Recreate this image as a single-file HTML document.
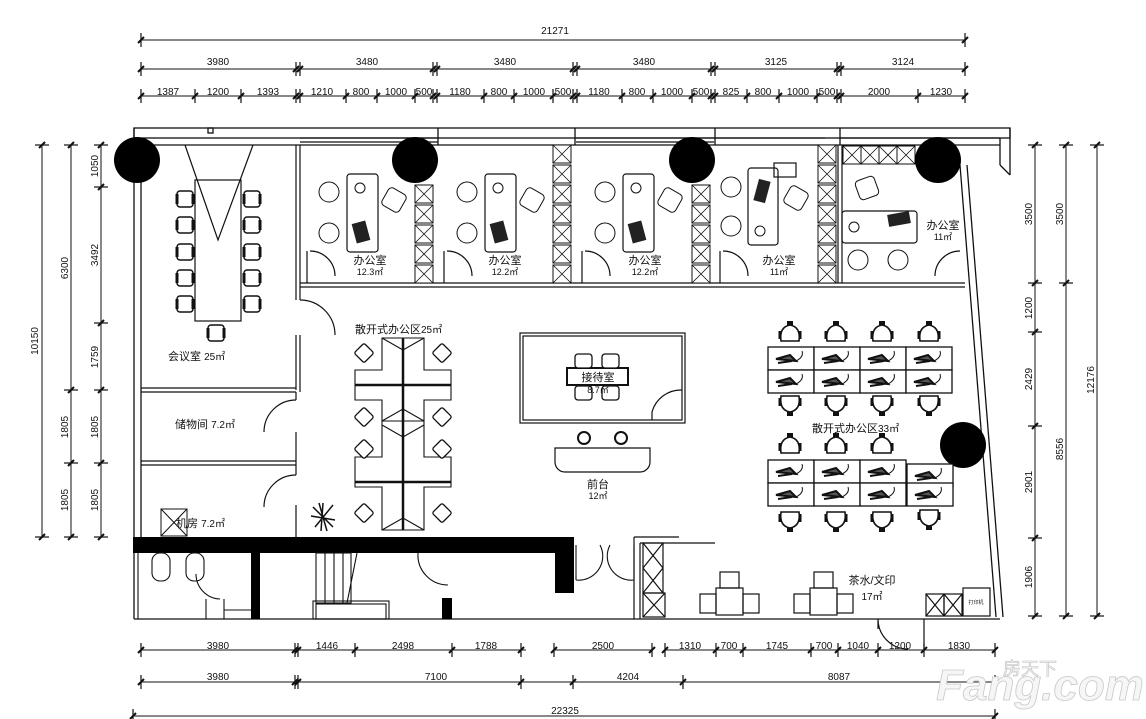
<!DOCTYPE html>
<html><head><meta charset="utf-8"><style>
html,body{margin:0;padding:0;background:#fff;}
svg{display:block;}
text{font-family:"Liberation Sans","Noto Sans CJK SC",sans-serif;fill:#111;}
</style></head><body>
<svg width="1146" height="719" viewBox="0 0 1146 719" xmlns="http://www.w3.org/2000/svg">
<defs>
<g id="tk"><line x1="0" y1="-7" x2="0" y2="7" stroke="#111" stroke-width="1.2"/><line x1="-3" y1="3" x2="3" y2="-3" stroke="#111" stroke-width="2"/></g>
<g id="tkv"><line x1="-7" y1="0" x2="7" y2="0" stroke="#111" stroke-width="1.2"/><line x1="-3" y1="3" x2="3" y2="-3" stroke="#111" stroke-width="2"/></g>
<g id="xc"><rect x="0" y="0" width="18" height="18" fill="#fff" stroke="#111"/><path d="M0 0L18 18M18 0L0 18" stroke="#111" stroke-width="0.8"/></g>
<g id="ch"><rect x="-8" y="-8" width="16" height="16" rx="3" fill="#fff" stroke="#111" stroke-width="1.5"/><path d="M-8 -5v10M8 -5v10" stroke="#111" stroke-width="3"/></g>
<g id="oc"><path d="M-9 8 Q-11 -6 0 -8 Q11 -6 9 8 Z" fill="#fff" stroke="#111" stroke-width="1.6"/><path d="M-10 -2v8M10 -2v8" stroke="#111" stroke-width="3"/><rect x="-3" y="-12" width="6" height="4" fill="#111"/></g>
<g id="ws"><rect x="0" y="0" width="46" height="23" fill="#fff" stroke="#111" stroke-width="1.3"/><path d="M8 12 L22 8 L28 14 Z M10 16 l14 -2" stroke="#111" stroke-width="2" fill="#555"/><path d="M28 14 q8 -4 6 -10" stroke="#111" fill="none"/></g>
</defs>

<g stroke="#111" stroke-width="1">
<line x1="141" y1="40" x2="965" y2="40"/>
<line x1="141" y1="69" x2="965" y2="69"/>
<line x1="141" y1="96" x2="965" y2="96"/>
</g>
<g>
<use href="#tk" x="141" y="40"/><use href="#tk" x="965" y="40"/>
<use href="#tk" x="141" y="69"/><use href="#tk" x="296" y="69"/><use href="#tk" x="300" y="69"/><use href="#tk" x="433" y="69"/><use href="#tk" x="437" y="69"/><use href="#tk" x="573" y="69"/><use href="#tk" x="577" y="69"/><use href="#tk" x="711" y="69"/><use href="#tk" x="715" y="69"/><use href="#tk" x="837" y="69"/><use href="#tk" x="841" y="69"/><use href="#tk" x="965" y="69"/>
<use href="#tk" x="141" y="96"/><use href="#tk" x="195" y="96"/><use href="#tk" x="241" y="96"/><use href="#tk" x="296" y="96"/><use href="#tk" x="300" y="96"/><use href="#tk" x="346" y="96"/><use href="#tk" x="377" y="96"/><use href="#tk" x="415" y="96"/><use href="#tk" x="433" y="96"/><use href="#tk" x="437" y="96"/><use href="#tk" x="484" y="96"/><use href="#tk" x="514" y="96"/><use href="#tk" x="553" y="96"/><use href="#tk" x="573" y="96"/><use href="#tk" x="577" y="96"/><use href="#tk" x="622" y="96"/><use href="#tk" x="653" y="96"/><use href="#tk" x="692" y="96"/><use href="#tk" x="711" y="96"/><use href="#tk" x="715" y="96"/><use href="#tk" x="747" y="96"/><use href="#tk" x="779" y="96"/><use href="#tk" x="817" y="96"/><use href="#tk" x="837" y="96"/><use href="#tk" x="841" y="96"/><use href="#tk" x="918" y="96"/><use href="#tk" x="965" y="96"/>
</g>
<g font-size="10" text-anchor="middle">
<text x="555" y="34">21271</text>
<text x="218" y="65">3980</text><text x="367" y="65">3480</text><text x="505" y="65">3480</text><text x="644" y="65">3480</text><text x="776" y="65">3125</text><text x="903" y="65">3124</text>
<text x="168" y="95">1387</text><text x="218" y="95">1200</text><text x="268" y="95">1393</text><text x="322" y="95">1210</text><text x="361" y="95">800</text><text x="396" y="95">1000</text><text x="424" y="95">500</text>
<text x="460" y="95">1180</text><text x="499" y="95">800</text><text x="534" y="95">1000</text><text x="563" y="95">500</text>
<text x="599" y="95">1180</text><text x="637" y="95">800</text><text x="672" y="95">1000</text><text x="701" y="95">500</text>
<text x="731" y="95">825</text><text x="763" y="95">800</text><text x="798" y="95">1000</text><text x="827" y="95">500</text>
<text x="879" y="95">2000</text><text x="941" y="95">1230</text>
</g>

<g stroke="#111" stroke-width="1">
<line x1="42" y1="145" x2="42" y2="537"/>
<line x1="71" y1="145" x2="71" y2="537"/>
<line x1="101" y1="145" x2="101" y2="537"/>
</g>
<use href="#tkv" x="42" y="145"/><use href="#tkv" x="42" y="537"/>
<use href="#tkv" x="71" y="145"/><use href="#tkv" x="71" y="390"/><use href="#tkv" x="71" y="463"/><use href="#tkv" x="71" y="537"/>
<use href="#tkv" x="101" y="145"/><use href="#tkv" x="101" y="187"/><use href="#tkv" x="101" y="323"/><use href="#tkv" x="101" y="390"/><use href="#tkv" x="101" y="463"/><use href="#tkv" x="101" y="537"/>
<g font-size="10" text-anchor="middle">
<text transform="translate(38,341) rotate(-90)">10150</text>
<text transform="translate(68,268) rotate(-90)">6300</text>
<text transform="translate(68,427) rotate(-90)">1805</text>
<text transform="translate(68,500) rotate(-90)">1805</text>
<text transform="translate(98,166) rotate(-90)">1050</text>
<text transform="translate(98,255) rotate(-90)">3492</text>
<text transform="translate(98,357) rotate(-90)">1759</text>
<text transform="translate(98,427) rotate(-90)">1805</text>
<text transform="translate(98,500) rotate(-90)">1805</text>
</g>

<g stroke="#111" stroke-width="1">
<line x1="1035" y1="145" x2="1035" y2="616"/>
<line x1="1066" y1="145" x2="1066" y2="616"/>
<line x1="1097" y1="145" x2="1097" y2="616"/>
</g>
<use href="#tkv" x="1035" y="145"/><use href="#tkv" x="1035" y="283"/><use href="#tkv" x="1035" y="332"/><use href="#tkv" x="1035" y="426"/><use href="#tkv" x="1035" y="538"/><use href="#tkv" x="1035" y="616"/>
<use href="#tkv" x="1066" y="145"/><use href="#tkv" x="1066" y="283"/><use href="#tkv" x="1066" y="616"/>
<use href="#tkv" x="1097" y="145"/><use href="#tkv" x="1097" y="616"/>
<g font-size="10" text-anchor="middle">
<text transform="translate(1032,214) rotate(-90)">3500</text>
<text transform="translate(1032,308) rotate(-90)">1200</text>
<text transform="translate(1032,379) rotate(-90)">2429</text>
<text transform="translate(1032,482) rotate(-90)">2901</text>
<text transform="translate(1032,577) rotate(-90)">1906</text>
<text transform="translate(1063,214) rotate(-90)">3500</text>
<text transform="translate(1063,449) rotate(-90)">8556</text>
<text transform="translate(1094,380) rotate(-90)">12176</text>
</g>

<g stroke="#111" stroke-width="1">
<line x1="141" y1="650" x2="526" y2="650"/>
<line x1="554" y1="650" x2="652" y2="650"/>
<line x1="665" y1="650" x2="995" y2="650"/>
<line x1="141" y1="682" x2="995" y2="682"/>
<line x1="133" y1="716" x2="995" y2="716"/>
</g>
<g>
<use href="#tk" x="141" y="650"/><use href="#tk" x="295" y="650"/><use href="#tk" x="298" y="650"/><use href="#tk" x="355" y="650"/><use href="#tk" x="452" y="650"/><use href="#tk" x="521" y="650"/><use href="#tk" x="554" y="650"/><use href="#tk" x="652" y="650"/><use href="#tk" x="665" y="650"/><use href="#tk" x="716" y="650"/><use href="#tk" x="743" y="650"/><use href="#tk" x="811" y="650"/><use href="#tk" x="838" y="650"/><use href="#tk" x="878" y="650"/><use href="#tk" x="924" y="650"/><use href="#tk" x="995" y="650"/>
<use href="#tk" x="141" y="682"/><use href="#tk" x="295" y="682"/><use href="#tk" x="298" y="682"/><use href="#tk" x="521" y="682"/><use href="#tk" x="573" y="682"/><use href="#tk" x="683" y="682"/><use href="#tk" x="995" y="682"/>
<use href="#tk" x="133" y="716"/><use href="#tk" x="995" y="716"/>
</g>
<g font-size="10" text-anchor="middle">
<text x="218" y="649">3980</text><text x="327" y="649">1446</text><text x="403" y="649">2498</text><text x="486" y="649">1788</text><text x="603" y="649">2500</text>
<text x="690" y="649">1310</text><text x="729" y="649">700</text><text x="777" y="649">1745</text><text x="824" y="649">700</text><text x="858" y="649">1040</text><text x="900" y="649">1200</text><text x="959" y="649">1830</text>
<text x="218" y="680">3980</text><text x="436" y="680">7100</text><text x="628" y="680">4204</text><text x="839" y="680">8087</text>
<text x="565" y="714">22325</text>
</g>

<g fill="none" stroke="#111" stroke-width="1.3">
<rect x="134" y="128" width="876" height="10"/>
<line x1="134" y1="145" x2="1000" y2="145"/>
<line x1="134" y1="128" x2="134" y2="619"/>
<line x1="141" y1="145" x2="141" y2="537"/>
<line x1="134" y1="619" x2="1000" y2="619"/>
<line x1="1010" y1="128" x2="1010" y2="175"/>
<line x1="1000" y1="138" x2="1000" y2="165"/>
<path d="M960 165 L996 617 M967 165 L1003 617 M1000 165 L1010 175"/>
<rect x="208" y="128" width="5" height="5"/>
<path d="M300 138h138M300 142h138M438 128v17M575 128v17M576 138h138M576 142h138M715 128v17M840 128v17M715 138h110M840 138h160"/>
</g>

<g fill="none" stroke="#111" stroke-width="1.2">
<line x1="296" y1="145" x2="296" y2="300"/><line x1="300" y1="145" x2="300" y2="300"/>
<line x1="296" y1="335" x2="296" y2="390"/><line x1="300" y1="335" x2="300" y2="392"/>
<path d="M300 300 A35 35 0 0 1 335 335"/>
<line x1="141" y1="388" x2="296" y2="388"/><line x1="141" y1="392" x2="296" y2="392"/>
<line x1="141" y1="461" x2="296" y2="461"/><line x1="141" y1="465" x2="296" y2="465"/>
<line x1="296" y1="392" x2="296" y2="400"/><line x1="296" y1="432" x2="296" y2="475"/><line x1="296" y1="505" x2="296" y2="537"/>
<path d="M296 400 A32 32 0 0 0 264 432 M296 475 A32 32 0 0 0 264 507"/>
<rect x="195" y="180" width="46" height="141"/>
<path d="M185 145 L218 240 L253 145"/>
</g>
<g>
<use href="#ch" x="185" y="199"/><use href="#ch" x="185" y="225"/><use href="#ch" x="185" y="252"/><use href="#ch" x="185" y="278"/><use href="#ch" x="185" y="304"/>
<use href="#ch" x="252" y="199"/><use href="#ch" x="252" y="225"/><use href="#ch" x="252" y="252"/><use href="#ch" x="252" y="278"/><use href="#ch" x="252" y="304"/>
<use href="#ch" x="216" y="333"/>
</g>
<text x="168" y="360" font-size="11">会议室 <tspan font-size="10">25㎡</tspan></text>
<text x="175" y="428" font-size="11">储物间 <tspan font-size="10">7.2㎡</tspan></text>
<rect x="161" y="509" width="26" height="27" fill="none" stroke="#111"/><path d="M161 509L187 536M187 509L161 536" stroke="#111"/>
<text x="176" y="527" font-size="11">机房 <tspan font-size="10">7.2㎡</tspan></text>

<g fill="none" stroke="#111" stroke-width="1.2">
<line x1="300" y1="283" x2="965" y2="283"/>
<line x1="300" y1="287" x2="965" y2="287"/>
<path d="M310 251 A25 25 0 0 1 335 276 M447 251 A25 25 0 0 1 472 276 M585 251 A25 25 0 0 1 610 276 M723 251 A25 25 0 0 1 748 276 M960 251 A25 25 0 0 0 935 276"/>
<line x1="307" y1="251" x2="307" y2="283"/><line x1="444" y1="251" x2="444" y2="283"/><line x1="582" y1="251" x2="582" y2="283"/><line x1="720" y1="251" x2="720" y2="283"/>
<line x1="838" y1="145" x2="838" y2="283"/><line x1="842" y1="145" x2="842" y2="283"/>
<rect x="347" y="174" width="31" height="78" rx="3"/>
<rect x="485" y="174" width="31" height="78" rx="3"/>
<rect x="623" y="174" width="31" height="78" rx="3"/>
<rect x="748" y="168" width="30" height="77" rx="3"/>
<rect x="774" y="163" width="22" height="14"/>
<rect x="842" y="211" width="75" height="32" rx="3"/>
</g>
<g>
<g transform="translate(415,185)"><use href="#xc" y="0"/><use href="#xc" y="20"/><use href="#xc" y="40"/><use href="#xc" y="60"/><use href="#xc" y="80"/></g>
<g transform="translate(553,145)"><use href="#xc" y="0"/><use href="#xc" y="20"/><use href="#xc" y="40"/><use href="#xc" y="60"/><use href="#xc" y="80"/><use href="#xc" y="100"/><use href="#xc" y="120"/></g>
<g transform="translate(692,185)"><use href="#xc" y="0"/><use href="#xc" y="20"/><use href="#xc" y="40"/><use href="#xc" y="60"/><use href="#xc" y="80"/></g>
<g transform="translate(818,145)"><use href="#xc" y="0"/><use href="#xc" y="20"/><use href="#xc" y="40"/><use href="#xc" y="60"/><use href="#xc" y="80"/><use href="#xc" y="100"/><use href="#xc" y="120"/></g>
<g transform="translate(843,146)"><use href="#xc" x="0"/><use href="#xc" x="18"/><use href="#xc" x="36"/><use href="#xc" x="54"/></g>
</g>
<g fill="#fff" stroke="#111" stroke-width="1">
<circle cx="329" cy="192" r="10"/><circle cx="329" cy="233" r="10"/>
<circle cx="467" cy="192" r="10"/><circle cx="467" cy="233" r="10"/>
<circle cx="605" cy="192" r="10"/><circle cx="605" cy="233" r="10"/>
<circle cx="731" cy="187" r="10"/><circle cx="731" cy="226" r="10"/>
<circle cx="858" cy="260" r="10"/><circle cx="898" cy="260" r="10"/>
<rect x="384" y="190" width="20" height="20" rx="4" transform="rotate(30 394 200)"/>
<rect x="522" y="190" width="20" height="20" rx="4" transform="rotate(30 532 200)"/>
<rect x="660" y="190" width="20" height="20" rx="4" transform="rotate(30 670 200)"/>
<rect x="786" y="188" width="20" height="20" rx="4" transform="rotate(30 796 198)"/>
<rect x="857" y="178" width="20" height="20" rx="4" transform="rotate(-20 867 188)"/>
<circle cx="360" cy="188" r="5"/><circle cx="498" cy="188" r="5"/><circle cx="636" cy="188" r="5"/><circle cx="760" cy="231" r="5"/><circle cx="854" cy="227" r="5"/>
</g>
<g fill="#222"><rect x="354" y="222" width="14" height="20" transform="rotate(-15 361 232)"/><rect x="492" y="222" width="14" height="20" transform="rotate(-15 499 232)"/><rect x="630" y="222" width="14" height="20" transform="rotate(-15 637 232)"/><rect x="756" y="180" width="12" height="22" transform="rotate(15 762 191)"/><rect x="888" y="213" width="22" height="12" transform="rotate(-10 899 219)"/></g>
<g font-size="11" text-anchor="middle">
<text x="370" y="264">办公室</text><text x="370" y="275" font-size="9">12.3㎡</text>
<text x="505" y="264">办公室</text><text x="505" y="275" font-size="9">12.2㎡</text>
<text x="645" y="264">办公室</text><text x="645" y="275" font-size="9">12.2㎡</text>
<text x="779" y="264">办公室</text><text x="779" y="275" font-size="9">11㎡</text>
<text x="943" y="229">办公室</text><text x="943" y="240" font-size="9">11㎡</text>
</g>

<g fill="#000"><circle cx="137" cy="160" r="23"/><circle cx="415" cy="160" r="23"/><circle cx="692" cy="160" r="23"/><circle cx="938" cy="160" r="23"/><circle cx="963" cy="445" r="23"/></g>

<text x="355" y="333" font-size="11">散开式办公区<tspan font-size="10">25㎡</tspan></text>
<g fill="none" stroke="#111" stroke-width="1.1">
<path d="M382 338h42v32h27v30h-27v21h-42v-21h-27v-30h27z"/>
<path d="M382 421v36h-27v30h27v43h42v-43h27v-30h-27v-36"/>
<line x1="403" y1="338" x2="403" y2="530" stroke-width="2.5"/>
<line x1="355" y1="385" x2="451" y2="385" stroke-width="2.5"/>
<line x1="355" y1="482" x2="451" y2="482" stroke-width="2.5"/>
<path d="M382 338l21 12l21 -12M382 421l21 -12l21 12M382 425l21 12l21 -12M382 530l21 -12l21 12"/>
</g>
<g fill="#fff" stroke="#111" stroke-width="1.3">
<rect x="357" y="346" width="14" height="14" rx="2" transform="rotate(45 364 353)"/><rect x="435" y="346" width="14" height="14" rx="2" transform="rotate(45 442 353)"/>
<rect x="357" y="410" width="14" height="14" rx="2" transform="rotate(45 364 417)"/><rect x="435" y="410" width="14" height="14" rx="2" transform="rotate(45 442 417)"/>
<rect x="357" y="442" width="14" height="14" rx="2" transform="rotate(45 364 449)"/><rect x="435" y="442" width="14" height="14" rx="2" transform="rotate(45 442 449)"/>
<rect x="357" y="506" width="14" height="14" rx="2" transform="rotate(45 364 513)"/><rect x="435" y="506" width="14" height="14" rx="2" transform="rotate(45 442 513)"/>
</g>
<g stroke="#111" stroke-width="1.5"><path d="M319 503l8 28M311 516l24 4M313 507l20 20M333 505l-18 22M323 503l-2 28"/></g>

<g fill="none" stroke="#111" stroke-width="1.2">
<rect x="520" y="333" width="165" height="90"/>
<rect x="523" y="336" width="159" height="84"/>
<rect x="567" y="368" width="61" height="17" stroke-width="2"/>
<path d="M682 390 A30 30 0 0 0 652 412 L652 420"/>
<path d="M555 448h95v14a10 10 0 0 1 -10 10h-75a10 10 0 0 1 -10 -10z"/>
</g>
<g fill="#fff" stroke="#111" stroke-width="1.3">
<rect x="575" y="354" width="17" height="14" rx="3"/><rect x="602" y="354" width="17" height="14" rx="3"/>
<rect x="575" y="386" width="17" height="14" rx="3"/><rect x="602" y="386" width="17" height="14" rx="3"/>
<circle cx="584" cy="438" r="6" stroke-width="2"/><circle cx="621" cy="438" r="6" stroke-width="2"/>
</g>
<text x="598" y="381" font-size="11" text-anchor="middle">接待室</text>
<text x="598" y="393" font-size="9" text-anchor="middle">8.7㎡</text>
<text x="598" y="488" font-size="11" text-anchor="middle">前台</text>
<text x="598" y="499" font-size="9" text-anchor="middle">12㎡</text>

<g>
<use href="#ws" x="768" y="347"/><use href="#ws" x="814" y="347"/><use href="#ws" x="860" y="347"/><use href="#ws" x="906" y="347"/>
<use href="#ws" x="768" y="370"/><use href="#ws" x="814" y="370"/><use href="#ws" x="860" y="370"/><use href="#ws" x="906" y="370"/>
<use href="#ws" x="768" y="460"/><use href="#ws" x="814" y="460"/><use href="#ws" x="860" y="460"/><use href="#ws" x="907" y="464"/>
<use href="#ws" x="768" y="483"/><use href="#ws" x="814" y="483"/><use href="#ws" x="860" y="483"/><use href="#ws" x="907" y="483"/>
<use href="#oc" x="790" y="333"/><use href="#oc" x="836" y="333"/><use href="#oc" x="882" y="333"/><use href="#oc" x="929" y="333"/>
<use href="#oc" x="790" y="404" transform="rotate(180 790 404)"/><use href="#oc" x="836" y="404" transform="rotate(180 836 404)"/><use href="#oc" x="882" y="404" transform="rotate(180 882 404)"/><use href="#oc" x="929" y="404" transform="rotate(180 929 404)"/>
<use href="#oc" x="790" y="445"/><use href="#oc" x="836" y="445"/><use href="#oc" x="882" y="445"/>
<use href="#oc" x="790" y="520" transform="rotate(180 790 520)"/><use href="#oc" x="836" y="520" transform="rotate(180 836 520)"/><use href="#oc" x="882" y="520" transform="rotate(180 882 520)"/><use href="#oc" x="929" y="518" transform="rotate(180 929 518)"/>
</g>
<text x="812" y="432" font-size="11">散开式办公区<tspan font-size="10">33㎡</tspan></text>

<g fill="#000">
<rect x="133" y="537" width="441" height="16"/>
<rect x="555" y="553" width="19" height="40"/>
<rect x="251" y="553" width="9" height="66"/>
<rect x="442" y="598" width="10" height="21"/>
</g>
<g fill="none" stroke="#111" stroke-width="1.1">
<line x1="138" y1="553" x2="138" y2="619"/>
<rect x="316" y="553" width="35" height="50"/>
<path d="M325 553v50M334 553v50M343 553v50"/>
<path d="M357 553l-10 50"/>
<rect x="313" y="601" width="76" height="18"/><rect x="316" y="604" width="70" height="15"/>
<path d="M206 599v20M224 599v20M224 610h27"/>
<path d="M196 574 A25 25 0 0 0 220 599"/>
<path d="M418 553 A30 30 0 0 0 448 585"/>
<rect x="152" y="553" width="18" height="28" rx="8"/><rect x="186" y="553" width="18" height="28" rx="8"/>
<path d="M576 545 v35 M634 545 v35"/>
<path d="M576 580 A24 24 0 0 0 600 545 M634 580 A24 24 0 0 1 610 545"/>
</g>

<g fill="none" stroke="#111" stroke-width="1.2">
<path d="M634 537v82M640 543v76M634 537h45M640 543h75"/>
<rect x="643" y="543" width="20" height="50"/><path d="M643 543l20 25M663 543l-20 25M643 568l20 25M663 568l-20 25"/>
<rect x="643" y="593" width="22" height="24"/><path d="M643 593l22 24M665 593l-22 24"/>
<rect x="716" y="588" width="27" height="27"/><rect x="700" y="594" width="16" height="19"/><rect x="743" y="594" width="16" height="19"/><rect x="720" y="572" width="19" height="16"/>
<rect x="810" y="588" width="27" height="27"/><rect x="794" y="594" width="16" height="19"/><rect x="837" y="594" width="16" height="19"/><rect x="814" y="572" width="19" height="16"/>
<rect x="926" y="594" width="18" height="22"/><rect x="944" y="594" width="18" height="22"/>
<path d="M926 594l18 22M944 594l-18 22M944 594l18 22M962 594l-18 22"/>
<rect x="963" y="588" width="27" height="28"/>
<path d="M878 619v10M878 619 A30 30 0 0 0 908 649M924 619v30"/>
</g>
<text x="872" y="584" font-size="11" text-anchor="middle">茶水/文印</text>
<text x="872" y="600" font-size="10" text-anchor="middle">17㎡</text>
<text x="976" y="604" font-size="5" text-anchor="middle">打印机</text>

<text x="1040" y="700" font-size="44" font-weight="bold" style="fill:#f6f6f6" stroke="#c8c8c8" stroke-width="0.8" text-anchor="middle" font-style="italic">Fang.com</text>
<text x="1003" y="675" font-size="18" style="fill:#f6f6f6" stroke="#c0c0c0" stroke-width="0.6">房天下</text>
</svg>
</body></html>
